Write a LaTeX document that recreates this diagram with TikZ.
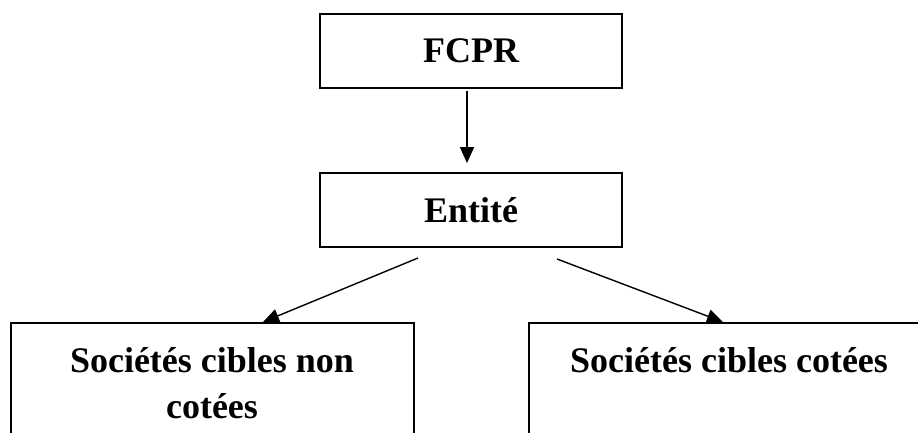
\documentclass[tikz,border=0pt]{standalone}
\usepackage{fontspec}
\setmainfont{Liberation Serif}
\usetikzlibrary{arrows.meta}
\begin{document}
\begin{tikzpicture}[x=1pt,y=-1pt,
  box/.style={draw, rectangle, line width=1.8pt, inner sep=0pt,
    font=\fontsize{36}{46}\selectfont\bfseries, align=center},
  lbl/.style={inner sep=0pt, font=\fontsize{36}{46}\selectfont\bfseries, align=center},
  link/.style={line width=1.4pt, -{Triangle[length=16pt,width=14pt]}}]
\useasboundingbox (0,0) rectangle (918,432);
\clip (0,0) rectangle (918,432);

% upper chain
\node[box, minimum width=302, minimum height=74] (fcpr) at (471,51) {FCPR};
\node[box, minimum width=302, minimum height=74] (entite) at (471,210) {Entité};

% lower boxes (open at the bottom and right of the sheet)
\node[box, minimum width=403, minimum height=130, anchor=north west] (soc1) at (10,322) {};
\node[box, minimum width=402, minimum height=130, anchor=north west] (soc2) at (528,322) {};
\node[lbl, anchor=north] (soc1txt) at (212,347) {Sociétés cibles non\\cotées};
\node[lbl, anchor=north] (soc2txt) at (729,347) {Sociétés cibles cotées};

% connectors
\draw[link, shorten <=2pt, shorten >=9pt]
  ([xshift=-4pt]fcpr.south) -- ([xshift=-4pt]entite.north);
\coordinate (eL) at (418,258);
\coordinate (eR) at (557,259);
\coordinate (tL) at (263,322);
\coordinate (tR) at (723,322);
\draw[link] (eL) -- (tL);
\draw[link] (eR) -- (tR);
\end{tikzpicture}
\end{document}
